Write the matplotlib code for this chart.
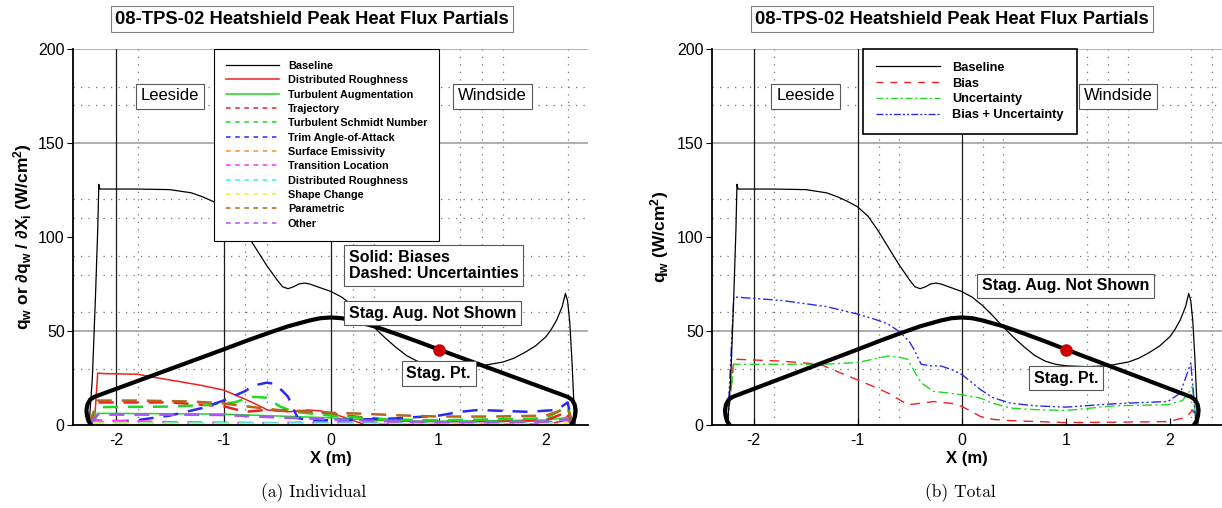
# Heatshield peak heat flux partials - individual contributions and totals
import matplotlib.pyplot as plt
from matplotlib.lines import Line2D

plt.rcParams['font.family'] = ['Liberation Sans', 'DejaVu Sans']
plt.rcParams['axes.unicode_minus'] = False
plt.rcParams['mathtext.fontset'] = 'custom'
plt.rcParams['mathtext.rm'] = 'Liberation Sans'
plt.rcParams['mathtext.bf'] = 'Liberation Sans:bold'
plt.rcParams['mathtext.it'] = 'Liberation Sans:italic'

# heatshield outline (thick line) and the baseline heat flux
body_x = [-2.23, -2.255, -2.27, -2.275, -2.265, -2.24, -2.2, -2.0, -1.5, -1.0, -0.8, -0.6,
          -0.4, -0.2, -0.1, 0.0, 0.1, 0.2, 0.4, 0.6, 0.8, 1.0, 1.5, 2.0, 2.2, 2.24, 2.265,
          2.275, 2.27, 2.255, 2.23]
body_y = [0, 2, 5, 8, 11, 13.5, 15, 19.2, 29.7, 40.2, 44.5, 48.6,
          52.5, 55.6, 56.8, 57.2, 56.8, 55.6, 52.5, 48.6, 44.5, 40.2, 29.7, 19.2, 15, 13.5, 11,
          8, 5, 2, 0]

base_x = [-2.25, -2.22, -2.19, -2.17, -2.16, -2.15, -1.8, -1.5, -1.3, -1.2, -1.1, -1.0, -0.9,
          -0.8, -0.7, -0.6, -0.5, -0.45, -0.4, -0.35, -0.3, -0.25, -0.2, -0.1, 0.0, 0.1, 0.2,
          0.3, 0.4, 0.5, 0.6, 0.7, 0.8, 0.9, 1.0, 1.2, 1.4, 1.6, 1.7, 1.8, 1.9, 2.0, 2.05,
          2.1, 2.15, 2.18, 2.2, 2.22, 2.24, 2.26, 2.27]
base_y = [0, 25, 70, 104, 128, 125.5, 125.5, 125.2, 123.5, 121.5, 119, 116, 111,
          103, 94, 85, 77, 73.5, 72.5, 73.5, 75, 75.5, 75, 73, 71, 68, 63.5,
          58, 52, 46.5, 41.5, 37, 34, 32.3, 31.5, 31, 31.5, 33.5, 35.5, 38.5, 42, 47, 51,
          56, 63, 70, 66, 55, 35, 10, 0]

stag_x = [1.0]
stag_y = [40]

# (a) individual partials: solid = biases, dashed = uncertainties
rough_x = [-2.25, -2.2, -2.17, -2.1, -1.8, -1.67, -1.4, -1.2, -1.0, -0.85, -0.74, -0.59, -0.4,
           -0.21, -0.1, 0.0, 0.1, 0.19, 0.3, 0.6, 1.0, 1.5, 2.0, 2.15, 2.22, 2.25]
rough_y = [0, 2, 27.6, 27.3, 27, 25.6, 23, 21, 18.6, 15, 12.2, 8, 7,
           8, 7.5, 6.4, 4.5, 2.7, 0.5, 0.3, 0.3, 0.3, 0.5, 2, 6, 0]

turb_x = [-2.25, -2.2, -2.17, -1.5, -1.0, -0.5, 0.0, 0.5, 1.0, 1.5, 2.0, 2.2, 2.25]
turb_y = [0, 1, 6.2, 6.0, 5.8, 4.8, 3.8, 2.2, 2.0, 2.3, 2.7, 4, 0]

traj_x = [-2.25, -2.17, -1.5, -1.0, -0.8, -0.6, -0.3, 0.0, 0.3, 0.6, 1.0, 1.5, 2.0, 2.2, 2.25]
traj_y = [0, 12, 12, 10, 7, 8, 7.5, 6, 4, 2.5, 2, 2, 2.5, 7, 0]

schmidt_x = [-2.25, -2.17, -1.5, -1.2, -0.9, -0.8, -0.72, -0.6, -0.47, -0.34, 0.0, 0.5, 1.0,
             1.5, 2.0, 2.2, 2.25]
schmidt_y = [0, 9.5, 9.8, 10.5, 12, 13.8, 15, 14.5, 9.7, 7, 5, 3, 2.5, 3, 3.5, 10, 0]

aoa_x = [-2.25, -2.2, -1.8, -1.5, -1.2, -1.0, -0.8, -0.72, -0.6, -0.53, -0.45, -0.4, -0.31,
         -0.2, 0.0, 0.3, 0.6, 1.0, 1.2, 1.37, 1.83, 2.1, 2.2, 2.25]
aoa_y = [0, 1, 2.6, 5, 9, 13, 18, 21, 22.5, 22, 18, 15, 3.7,
         2.5, 2.5, 3, 3.5, 5, 7, 8, 7, 8, 12, 0]

emis_x = [-2.25, -2.17, -1.0, 0.0, 1.0, 2.0, 2.2, 2.25]
emis_y = [0, 1, 0.8, 0.6, 0.5, 0.6, 1.5, 0]

trans_x = [-2.25, -2.2, -1.5, -1.0, -0.5, 0.0, 0.5, 1.0, 1.5, 2.0, 2.2, 2.25]
trans_y = [0, 2.5, 1.5, 1.2, 1.0, 1.5, 1.2, 1.2, 1.2, 1.3, 2.5, 0]

rough_unc_x = [-2.25, -2.2, -1.0, 0.0, 1.0, 2.0, 2.2, 2.25]
rough_unc_y = [0, 1.2, 0.9, 0.8, 0.7, 0.8, 1.5, 0]

shape_x = [-2.25, -2.2, -1.0, 0.0, 1.0, 2.0, 2.2, 2.25]
shape_y = [0, 0.8, 0.5, 0.4, 0.4, 0.5, 1.0, 0]

param_x = [-2.25, -2.17, -1.8, -1.3, -1.0, -0.8, -0.5, -0.2, 0.0, 0.3, 0.6, 1.0, 1.5, 2.0,
           2.2, 2.25]
param_y = [0, 13, 13, 12.5, 11.5, 10, 8, 7, 6.5, 6, 5.2, 4.5, 4.5, 5.0, 9, 0]

other_x = [-2.25, -2.17, -1.5, -1.0, -0.5, 0.0, 0.5, 1.0, 1.5, 2.0, 2.2, 2.25]
other_y = [0, 5.5, 5.5, 5.3, 4.0, 3.0, 2.0, 1.5, 1.5, 1.8, 3, 0]

# (b) totals
bias_x = [-2.25, -2.19, -1.74, -1.36, -1.2, -1.01, -0.85, -0.71, -0.6, -0.52, -0.4, -0.27,
          -0.1, 0.0, 0.1, 0.18, 0.3, 0.47, 1.0, 1.5, 1.98, 2.15, 2.22, 2.25]
bias_y = [1, 35, 34, 32.3, 28.5, 24.2, 20.5, 17, 13.5, 10.8, 11.5, 12.5,
          11.5, 9.9, 7, 4.5, 3, 2.3, 1.3, 1.5, 1.8, 4, 8, 1]

unc_x = [-2.25, -2.19, -1.33, -1.01, -0.85, -0.71, -0.6, -0.52, -0.45, -0.39, -0.27, -0.1,
         0.0, 0.18, 0.3, 0.47, 0.7, 1.0, 1.46, 1.98, 2.12, 2.22, 2.25]
unc_y = [1, 32.3, 32.3, 33.2, 35, 36.7, 36, 35, 28, 22.4, 17.9, 16.8,
         16.1, 14.3, 11.5, 9, 8.2, 7.7, 10.2, 10.8, 13, 20.3, 1]

tot_x = [-2.25, -2.19, -1.74, -1.3, -1.01, -0.85, -0.71, -0.59, -0.5, -0.46, -0.39, -0.3,
         -0.2, -0.1, 0.0, 0.1, 0.18, 0.3, 0.47, 0.7, 1.0, 1.46, 1.98, 2.1, 2.2, 2.25]
tot_y = [1, 68.1, 66.3, 63, 59.1, 56.5, 53.8, 49.3, 44, 40.3, 32.3, 31.5,
         31.4, 29.5, 26.9, 22.5, 18.8, 14.5, 11.6, 10.2, 9.5, 11.3, 12.5, 17, 33, 1]

title = '08-TPS-02 Heatshield Peak Heat Flux Partials'

RED = '#ee2020'
GREEN = '#1fd81f'
BLUE = '#2a2af0'

fig = plt.figure(figsize=(12.22, 5.08), dpi=100)
ax1 = fig.add_axes([73 / 1222, 83 / 508, 515 / 1222, 376 / 508])
ax2 = fig.add_axes([712 / 1222, 83 / 508, 510 / 1222, 376 / 508])


def style_axes(ax, xmax):
    ax.set_xlim(-2.4, xmax)
    ax.set_ylim(0, 200)
    for s in ['top', 'right']:
        ax.spines[s].set_visible(False)
    for s in ['left', 'bottom']:
        ax.spines[s].set_linewidth(1.3)
    # tecplot-ish grid
    for gx in [-1.8, -0.8, -0.6, 0.2, 0.4, 1.2, 1.4, 1.6, 2.2, 2.4]:
        ax.axvline(gx, color='0.45', lw=0.9, ls=(0, (1, 5)), zorder=0)
    for gy in [180, 170, 120, 110, 90, 80, 60, 30]:
        ax.axhline(gy, color='0.45', lw=0.9, ls=(0, (1, 5)), zorder=0)
    for gy in [50, 150, 200]:
        ax.axhline(gy, color='0.6', lw=1.1, zorder=0)
    for gx in [-2, -1, 0]:
        ax.axvline(gx, color='0.1', lw=0.9, zorder=0)
    ax.set_xticks([-2, -1, 0, 1, 2])
    ax.set_yticks([0, 50, 100, 150, 200])
    ax.tick_params(axis='x', direction='in', length=5, labelsize=11.5, pad=6)
    ax.tick_params(axis='y', direction='out', length=4, labelsize=11.5, pad=2)
    ax.set_xlabel('X (m)', fontsize=12, fontweight='bold', labelpad=2)
    box = dict(boxstyle='square,pad=0.3', fc='white', ec='0.35', lw=0.8)
    ax.text(-1.5, 175, 'Leeside', fontsize=12, ha='center', va='center', bbox=box, zorder=6)
    ax.text(1.5, 175, 'Windside', fontsize=12, ha='center', va='center', bbox=box, zorder=6)
    ax.plot(base_x, base_y, color='black', lw=0.9, zorder=3)
    ax.plot(body_x, body_y, color='black', lw=3, solid_capstyle='round', zorder=4)
    ax.plot(stag_x, stag_y, 'o', color='#cc0000', ms=8, zorder=7)
    return box


# ---------------- (a) Individual ----------------
box = style_axes(ax1, 2.39)
dash = (0, (6, 4))
partials = [
    (rough_x, rough_y, RED, '-', 'Distributed Roughness'),
    (turb_x, turb_y, GREEN, '-', 'Turbulent Augmentation'),
    (traj_x, traj_y, RED, dash, 'Trajectory'),
    (schmidt_x, schmidt_y, GREEN, dash, 'Turbulent Schmidt Number'),
    (aoa_x, aoa_y, BLUE, dash, 'Trim Angle-of-Attack'),
    (emis_x, emis_y, '#ff8c1a', dash, 'Surface Emissivity'),
    (trans_x, trans_y, '#ff33ff', dash, 'Transition Location'),
    (rough_unc_x, rough_unc_y, '#33f0f0', dash, 'Distributed Roughness'),
    (shape_x, shape_y, '#f0f033', dash, 'Shape Change'),
    (param_x, param_y, '#b5651d', dash, 'Parametric'),
    (other_x, other_y, '#a855f7', dash, 'Other'),
]
handles = [Line2D([], [], color='black', lw=0.9, label='Baseline')]
for px, py, c, ls, lab in partials:
    lw = 1.1 if ls == '-' else 1.8
    ax1.plot(px, py, color=c, ls=ls, lw=lw, zorder=2)
    handles.append(Line2D([], [], color=c, lw=1.1, ls='-' if ls == '-' else (0, (3, 3)), label=lab))

leg1 = ax1.legend(handles=handles, loc='upper left', bbox_to_anchor=(0.274, 1.0),
                  borderaxespad=0, prop={'weight': 'bold', 'size': 7.8},
                  handlelength=4.9, handletextpad=0.8, labelspacing=0.4,
                  borderpad=1.1, fancybox=False, framealpha=1, edgecolor='black')
leg1.get_frame().set_linewidth(0.8)
leg1.set_zorder(8)

ax1.text(0.165, 85, 'Solid: Biases\nDashed: Uncertainties', fontsize=11.5, fontweight='bold',
         ha='left', va='center', linespacing=1.1, bbox=box, zorder=6)
ax1.text(0.165, 59.5, 'Stag. Aug. Not Shown', fontsize=11.5, fontweight='bold',
         ha='left', va='center', bbox=box, zorder=6)
ax1.text(1.0, 27.5, 'Stag. Pt.', fontsize=11.5, fontweight='bold',
         ha='center', va='center', bbox=box, zorder=6)
ax1.set_ylabel(r'$\mathbf{q_w}$ or $\mathbf{\partial q_w\ /\ \partial X_i}$ (W/cm$\mathbf{^2}$)',
               fontsize=12.5, fontweight='bold')
ax1.yaxis.set_label_coords(-0.076, 0.5)

# ---------------- (b) Total ----------------
box = style_axes(ax2, 2.5)
ax2.plot(bias_x, bias_y, color=RED, ls=(0, (7, 5)), lw=1.0, zorder=2)
ax2.plot(unc_x, unc_y, color=GREEN, ls=(0, (7, 2.5, 1.5, 2.5)), lw=1.0, zorder=2)
ax2.plot(tot_x, tot_y, color=BLUE, ls=(0, (7, 2, 1.5, 2, 1.5, 2)), lw=1.0, zorder=2)

handles2 = [
    Line2D([], [], color='black', lw=0.9, label='Baseline'),
    Line2D([], [], color=RED, lw=1.0, ls=(0, (5, 5)), label='Bias'),
    Line2D([], [], color=GREEN, lw=1.0, ls=(0, (5, 2, 1.5, 2)), label='Uncertainty'),
    Line2D([], [], color=BLUE, lw=1.0, ls=(0, (5, 1.5, 1.5, 1.5, 1.5, 1.5)), label='Bias + Uncertainty'),
]
leg2 = ax2.legend(handles=handles2, loc='upper left', bbox_to_anchor=(0.296, 1.0),
                  borderaxespad=0, prop={'weight': 'bold', 'size': 9.2},
                  handlelength=5.0, handletextpad=1.0, labelspacing=0.3,
                  borderpad=1.0, fancybox=False, framealpha=1, edgecolor='black')
leg2.get_frame().set_linewidth(1.2)
leg2.set_zorder(8)

ax2.text(1.0, 74, 'Stag. Aug. Not Shown', fontsize=11.5, fontweight='bold',
         ha='center', va='center', bbox=box, zorder=6)
ax2.text(1.0, 25, 'Stag. Pt.', fontsize=11.5, fontweight='bold',
         ha='center', va='center', bbox=box, zorder=6)
ax2.set_ylabel(r'$\mathbf{q_w}$ (W/cm$\mathbf{^2}$)', fontsize=12.5, fontweight='bold')
ax2.yaxis.set_label_coords(-0.08, 0.5)

# titles and captions
tbox = dict(boxstyle='square,pad=0.25', fc='white', ec='0.5', lw=0.8)
fig.text(312 / 1222, 1 - 19 / 508, title, fontsize=13.2, fontweight='bold',
         ha='center', va='center', bbox=tbox)
fig.text(952 / 1222, 1 - 19 / 508, title, fontsize=13.2, fontweight='bold',
         ha='center', va='center', bbox=tbox)
fig.text(314 / 1222, 1 - 493 / 508, '(a) Individual', fontsize=12.5, family='cmr10',
         ha='center', va='center')
fig.text(960 / 1222, 1 - 493 / 508, '(b) Total', fontsize=12.5, family='cmr10',
         ha='center', va='center')

fig.savefig('out.png', dpi=100)
